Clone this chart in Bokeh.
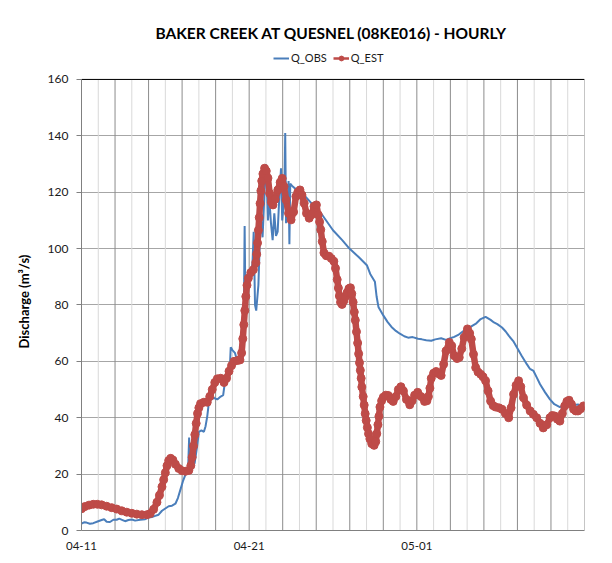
import pandas as pd
from bokeh.plotting import figure
from bokeh.models import (Range1d, FixedTicker, DatetimeTickFormatter, Span, Title,
                          Label, Legend, LegendItem, ColumnDataSource)
from bokeh.embed import file_html
from bokeh.resources import INLINE

TITLE = "BAKER CREEK AT QUESNEL (08KE016) - HOURLY"
Y_LABEL = "Discharge (m³/s)"
START = "2011-04-11"
N_DAYS = 30
X_TICK_DATES = ["2011-04-11", "2011-04-21", "2011-05-01"]
Y_TICKS = [0, 20, 40, 60, 80, 100, 120, 140, 160]
Y_MAX = 160
Y_TOP = 188  # headroom inside the frame for title and legend

# Q_OBS: day offset from 04-11 00:00, discharge
OBS_DAY = [0.0, 0.15, 0.3, 0.5, 0.7, 1.0, 1.2, 1.35, 1.5, 1.7, 1.9, 2.1, 2.25, 2.45, 2.6, 2.8,
           3.0, 3.2, 3.5, 3.8, 4.0, 4.2, 4.4, 4.6, 4.8, 5.0, 5.2, 5.4, 5.6, 5.75, 5.9, 6.05,
           6.2, 6.35, 6.42, 6.45, 6.6, 6.75, 6.9, 7.0, 7.15, 7.3, 7.4, 7.5, 7.6, 7.7, 7.9,
           8.1, 8.3, 8.45, 8.55, 8.7, 8.85, 8.9, 9.0, 9.15, 9.25, 9.4, 9.55, 9.68, 9.73,
           9.78, 9.9, 10.0, 10.1, 10.2, 10.27, 10.35, 10.42, 10.55, 10.62, 10.68, 10.8,
           10.9, 10.98, 11.05, 11.12, 11.2, 11.3, 11.4, 11.5, 11.6, 11.7, 11.8, 11.9,
           11.97, 12.1, 12.15, 12.2, 12.3, 12.35, 12.4, 12.45, 12.6, 12.8, 13.2, 13.8,
           14.35, 15.0, 15.55, 15.98, 16.53, 17.02, 17.22, 17.5, 17.6, 17.71, 18.0, 18.25,
           18.49, 18.75, 18.99, 19.25, 19.48, 19.75, 20.07, 20.3, 20.56, 20.86, 21.1,
           21.45, 21.74, 22.0, 22.23, 22.5, 22.82, 23.05, 23.3, 23.55, 23.81, 24.1, 24.4,
           24.6, 24.8, 25.08, 25.3, 25.48, 25.75, 25.97, 26.25, 26.56, 26.75, 26.96,
           27.15, 27.35, 27.65, 27.94, 28.2, 28.53, 28.8, 29.12, 29.4, 29.61, 29.94]
OBS_Q = [2.4, 2.9, 2.8, 2.4, 2.6, 3.3, 3.7, 4.0, 3.1, 3.0, 3.8, 3.8, 4.2, 3.7, 3.3, 3.7,
         3.9, 3.5, 3.8, 4.0, 4.6, 4.8, 5.2, 5.6, 7.0, 7.8, 8.6, 8.8, 9.5, 11.5, 14.5, 17.5,
         19.8, 20.5, 33.0, 21.5, 22.0, 24.0, 30.0, 35.0, 35.5, 35.0, 37.0, 40.5, 45.5, 46.5, 47.0,
         46.5, 47.5, 48.0, 52.5, 55.0, 58.0, 65.0, 64.0, 63.0, 61.0, 60.5, 61.0, 74.0, 108.0,
         78.0, 86.0, 88.5, 90.0, 95.0, 106.0, 80.0, 78.0, 87.0, 100.0, 112.0, 104.0,
         118.0, 130.0, 123.0, 110.0, 118.0, 109.0, 103.0, 112.5, 104.5, 106.0, 118.5, 128.5,
         110.0, 118.0, 141.0, 109.0, 115.0, 124.0, 101.5, 123.0, 122.0, 121.0, 119.5, 115.5,
         112.0, 106.5, 103.0, 100.0, 97.0, 94.1, 91.0, 88.2, 83.0, 79.3, 76.3, 74.0,
         72.2, 70.8, 69.8, 68.9, 68.4, 68.6, 68.0, 67.8, 67.5, 67.3, 67.8,
         68.2, 67.6, 68.2, 68.7, 69.5, 70.9, 71.6, 72.6, 73.5, 75.0, 75.8, 74.7,
         73.8, 73.2, 72.0, 70.6, 69.1, 67.2, 64.9, 62.0, 59.0, 57.3, 56.6,
         54.3, 51.9, 49.0, 46.5, 44.8, 43.8, 44.2, 44.7, 44.5, 44.7, 43.8]

# Q_EST: day offset from 04-11 00:00, discharge
EST_DAY = [0.0, 0.2, 0.45, 0.7, 0.95, 1.2, 1.5, 1.8, 2.1, 2.4, 2.7, 3.0, 3.3, 3.6, 3.9, 4.1,
           4.3, 4.5, 4.65, 4.8, 4.9, 5.0, 5.1, 5.2, 5.32, 5.45, 5.6, 5.8, 6.0, 6.2, 6.4, 6.52,
           6.6, 6.68, 6.76, 6.84, 6.92, 7.0, 7.1, 7.3, 7.5, 7.65, 7.8, 7.95, 8.1, 8.3, 8.5,
           8.65, 8.8, 8.95, 9.1, 9.3, 9.45, 9.55, 9.62, 9.68, 9.74, 9.8, 9.87, 9.95, 10.1,
           10.25, 10.4, 10.45, 10.5, 10.55, 10.6, 10.65, 10.7, 10.75, 10.82, 10.92, 11.02,
           11.12, 11.22, 11.32, 11.42, 11.55, 11.71, 11.85, 11.97, 12.08, 12.2, 12.35, 12.5,
           12.65, 12.79, 12.9, 13.03, 13.15, 13.28, 13.42, 13.58, 13.72, 13.87, 14.01, 14.12,
           14.2, 14.27, 14.36, 14.46, 14.6, 14.76, 14.9, 15.05, 15.15, 15.25, 15.32, 15.38,
           15.45, 15.54, 15.65, 15.75, 15.84, 15.95, 16.04, 16.12, 16.2, 16.27, 16.33, 16.4,
           16.47, 16.53, 16.58, 16.63, 16.68, 16.72, 16.8, 16.86, 16.92, 16.98, 17.05, 17.12,
           17.2, 17.31, 17.45, 17.55, 17.61, 17.68, 17.74, 17.8, 17.9, 18.0, 18.15, 18.29,
           18.45, 18.59, 18.75, 18.9, 19.05, 19.2, 19.38, 19.58, 19.72, 19.87, 20.05, 20.25,
           20.46, 20.6, 20.69, 20.78, 20.86, 21.0, 21.15, 21.3, 21.45, 21.6, 21.74, 21.94,
           22.08, 22.23, 22.4, 22.53, 22.68, 22.82, 23.02, 23.15, 23.25, 23.38, 23.51, 23.65,
           23.81, 23.95, 24.1, 24.25, 24.4, 24.55, 24.69, 24.9, 25.08, 25.28, 25.48, 25.62,
           25.77, 25.92, 26.07, 26.2, 26.36, 26.55, 26.76, 26.95, 27.15, 27.35, 27.54, 27.75,
           27.94, 28.08, 28.23, 28.38, 28.53, 28.68, 28.82, 28.95, 29.08, 29.22, 29.35, 29.48,
           29.61, 29.78, 29.94]
EST_Q = [7.7, 8.5, 9.0, 9.3, 9.3, 9.1, 8.6, 8.1, 7.6, 7.0, 6.5, 6.1, 5.8, 5.6, 5.6, 6.0,
         7.5, 10.0, 12.5, 15.5, 18.0, 20.5, 23.0, 24.8, 25.6, 25.0, 23.5, 22.0, 21.2, 21.0, 21.3, 23.0,
         26.0, 30.0, 34.0, 38.0, 41.5, 43.5, 45.0, 45.5, 45.5, 47.5, 50.0, 52.5, 53.8, 54.0, 52.5,
         54.0, 56.5, 58.5, 60.0, 60.3, 60.5, 63.0, 68.0, 73.0, 78.0, 83.0, 87.0, 89.5, 91.5,
         92.5, 95.0, 98.0, 102.0, 106.5, 111.0, 116.0, 120.5, 124.0, 126.5, 128.5, 127.5,
         125.0, 119.6, 116.5, 115.5, 117.5, 120.8, 123.5, 124.9, 122.0, 117.3, 112.5, 110.2,
         113.0, 118.5, 120.0, 120.8, 119.0, 116.1, 112.5, 110.8, 112.0, 115.0, 115.5, 112.0,
         109.5, 106.7, 102.5, 98.5, 97.5, 97.3, 96.5, 95.5, 93.0, 89.0, 86.0, 83.2,
         81.0, 80.2, 81.5, 83.0, 84.4, 85.8, 86.1, 84.0, 81.0, 77.5, 74.6, 70.5,
         66.5, 62.7, 59.5, 56.8, 54.0, 50.9, 47.5, 44.5, 41.4, 39.0, 36.5, 34.3,
         32.5, 30.8, 30.2, 31.5, 34.3, 37.5, 40.5, 43.8, 46.0, 47.3, 48.0, 47.9,
         46.5, 45.8, 47.5, 50.0, 51.0, 49.5, 46.5, 44.6, 46.0, 48.0, 49.0, 47.5,
         45.8, 46.0, 47.5, 50.5, 54.0, 55.8, 56.4, 55.6, 55.0, 59.0, 63.7, 66.7,
         65.5, 62.0, 61.0, 61.4, 64.5, 68.5, 71.5, 70.0, 67.9, 62.5, 57.8, 56.2,
         55.4, 54.5, 53.1, 49.5, 45.9, 44.3, 43.8, 43.5, 43.0, 41.5, 40.0, 43.5,
         48.3, 51.5, 53.1, 51.0, 47.1, 44.5, 42.4, 41.2, 40.0, 38.0, 36.4, 37.5,
         40.0, 40.8, 40.6, 39.5, 38.8, 41.5, 44.2, 45.8, 46.2, 44.8, 43.0, 42.4,
         42.4, 43.2, 44.2]

BLUE = "#4A7EBB"
RED = "#BE4B48"
FONT = "Lato"

start = pd.Timestamp(START)
obs_src = ColumnDataSource(dict(t=start + pd.to_timedelta(OBS_DAY, unit="D"), q=OBS_Q))
est_src = ColumnDataSource(dict(t=start + pd.to_timedelta(EST_DAY, unit="D"), q=EST_Q))


def ms(ts):
    return ts.value / 1e6


x_end = start + pd.Timedelta(days=N_DAYS)
p = figure(width=604, height=555, output_backend="svg", toolbar_location=None,
           title=None, x_axis_type="datetime",
           x_range=Range1d(start, x_end), y_range=Range1d(0, Y_TOP),
           min_border_left=77, min_border_right=20, min_border_top=0, min_border_bottom=25,
           background_fill_color="white", border_fill_color="white")
p.outline_line_color = None

# grids: day lines (dark every second day, light in between), limited to the data area
p.xgrid.grid_line_color = None
p.ygrid.grid_line_color = "#a6a6a6"
grid_days = list(range(1, N_DAYS + 1))
grid_src = ColumnDataSource(dict(
    t=[start + pd.Timedelta(days=d) for d in grid_days],
    y0=[0] * len(grid_days), y1=[Y_MAX] * len(grid_days),
    c=["#8c8c8c" if d % 2 == 0 else "#d9d9d9" for d in grid_days]))
p.segment(x0="t", y0="y0", x1="t", y1="y1", source=grid_src, line_color="c", line_width=1)
p.add_layout(Span(location=Y_MAX, dimension="width", line_color="black", line_width=1))

# axes
p.xaxis.ticker = FixedTicker(ticks=[ms(pd.Timestamp(d)) for d in X_TICK_DATES])
fmt = "%m-%d"
p.xaxis.formatter = DatetimeTickFormatter(days=fmt, months=fmt, hours=fmt, hourmin=fmt,
                                          minutes=fmt, years=fmt)
p.yaxis.ticker = FixedTicker(ticks=Y_TICKS)
p.yaxis.bounds = (0, Y_MAX)
for ax in (p.xaxis, p.yaxis):
    ax.axis_line_color = "#808080"
    ax.major_tick_line_color = "#808080"
    ax.minor_tick_line_color = None
    ax.major_tick_in = 0
    ax.major_label_text_font = FONT
    ax.major_label_text_color = "#1a1a1a"
p.xaxis.major_label_text_font_size = "11.5px"
p.yaxis.major_label_text_font_size = "12px"
p.xaxis.major_tick_out = 0
p.xaxis.major_label_standoff = 11
p.yaxis.major_tick_out = 5
p.yaxis.major_label_standoff = 8

# y axis title, placed along the data part of the axis
p.add_layout(Title(text=Y_LABEL, align="left", offset=182, vertical_align="bottom",
                   standoff=26, text_font=FONT, text_font_style="bold",
                   text_font_size="13px", text_color="black"), "left")

# series
obs_line = p.line("t", "q", source=obs_src, line_color=BLUE, line_width=2)
est_line = p.line("t", "q", source=est_src, line_color=RED, line_width=6.5,
                  line_join="round", line_cap="round")
est_pts = p.scatter("t", "q", source=est_src, marker="circle", size=8,
                    fill_color=RED, line_color=RED)

# legend (thin-line proxy for the estimate series; one NaN row so nothing is plotted)
proxy = ColumnDataSource(dict(t=[start], q=[float("nan")]))
leg_est_line = p.line("t", "q", source=proxy, line_color=RED, line_width=2.5)
leg_est_pt = p.scatter("t", "q", source=proxy, marker="circle", size=7,
                       fill_color=RED, line_color=RED)
legend = Legend(items=[LegendItem(label="Q_OBS", renderers=[obs_line]),
                       LegendItem(label="Q_EST", renderers=[leg_est_line, leg_est_pt])],
                location=(192, 466), orientation="horizontal",
                glyph_width=16, glyph_height=12, label_height=12, label_standoff=2,
                spacing=6, padding=0, margin=0,
                label_text_font=FONT, label_text_font_size="11px",
                label_text_color="#1a1a1a",
                border_line_alpha=0, background_fill_alpha=0)
p.add_layout(legend)

# title
p.add_layout(Label(x=250, y=498, x_units="screen", y_units="screen", text=TITLE,
                   text_align="center", text_baseline="middle", text_font=FONT,
                   text_font_style="bold", text_font_size="15.5px", text_color="black"))

open("out.html", "w").write(file_html(p, INLINE))
